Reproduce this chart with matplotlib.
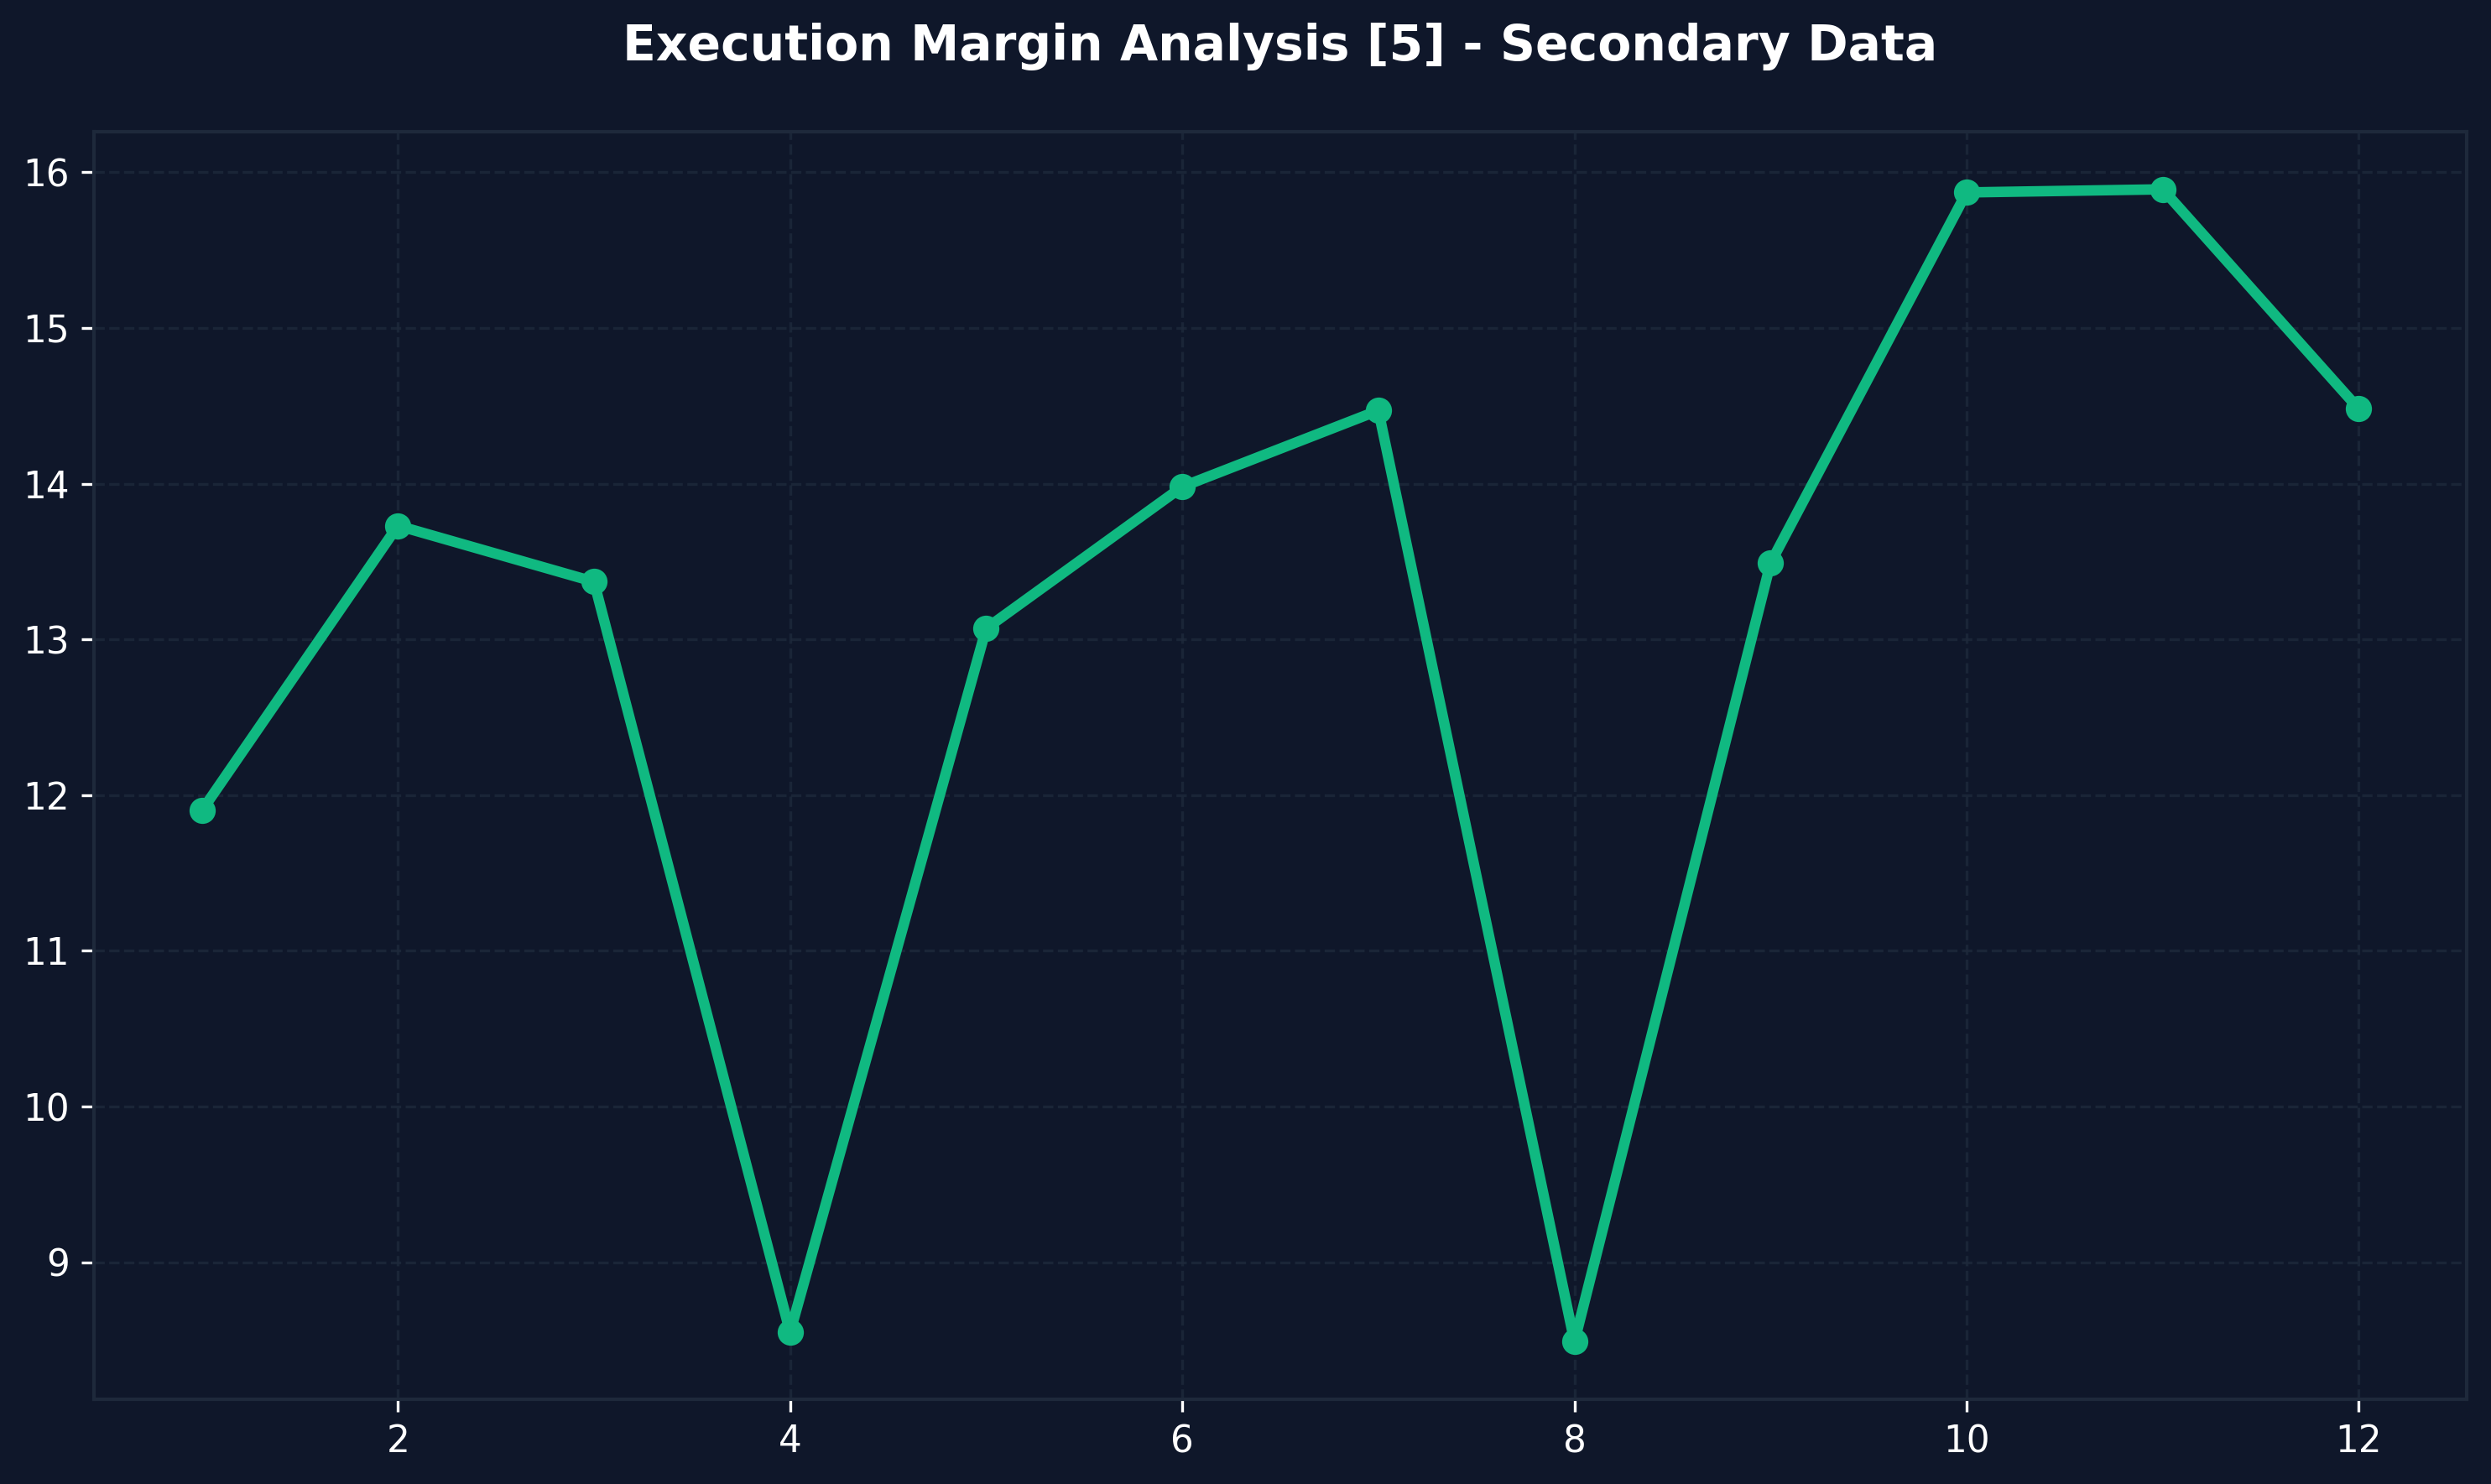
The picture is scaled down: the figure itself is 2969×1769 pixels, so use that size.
import matplotlib
matplotlib.use("Agg")
import matplotlib.pyplot as plt

x_values = [1, 2, 3, 4, 5, 6, 7, 8, 9, 10, 11, 12]
y_values = [11.90, 13.73, 13.37, 8.55, 13.07, 13.98, 14.47, 8.49, 13.49, 15.87, 15.89, 14.48]
title = "Execution Margin Analysis [5] - Secondary Data"

bg = "#0f172a"
line_color = "#10b981"

fig = plt.figure(figsize=(2969 / 300, 1769 / 300), dpi=300, facecolor=bg)
left, right, top, bottom = 112 / 2969, 2940 / 2969, 1 - 157 / 1769, 1 - 1668 / 1769
ax = fig.add_axes([left, bottom, right - left, top - bottom])
ax.set_facecolor(bg)

ax.plot(x_values, y_values, color=line_color, linewidth=3, marker="o", markersize=6.5)

ax.grid(True, linestyle="--", color="#1e293b", linewidth=0.8, alpha=0.8)
for s in ax.spines.values():
    s.set_color("#1e293b")
    s.set_linewidth(1.0)
ax.tick_params(colors="white", labelsize=10.5, length=3.5, width=0.8)
for lbl in ax.get_xticklabels() + ax.get_yticklabels():
    lbl.set_color("white")

fig.text((left + right) / 2, 1 - 55 / 1769, title, ha="center", va="center",
         color="white", fontsize=14, fontweight="bold")

fig.savefig("out.png", dpi=300, facecolor=bg)
